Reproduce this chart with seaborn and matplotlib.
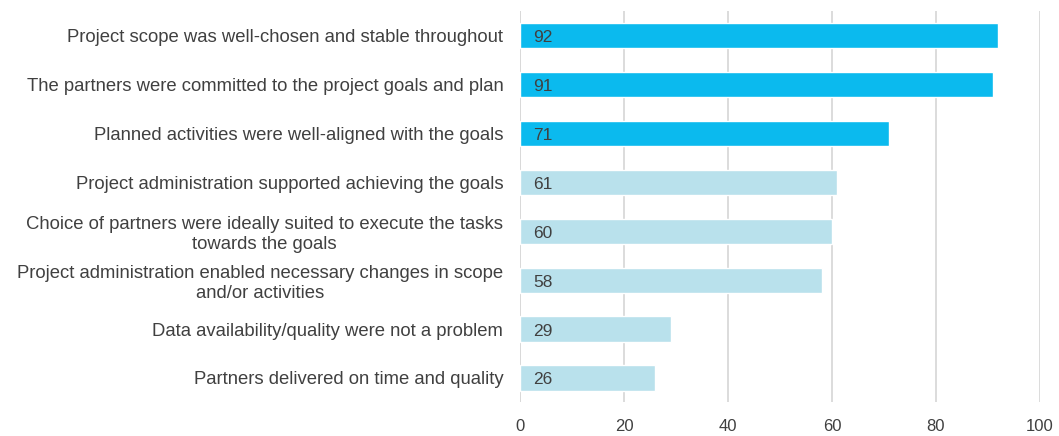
import matplotlib
matplotlib.use('Agg')
import matplotlib.pyplot as plt
import seaborn as sns
import pandas as pd

# ===== DATA =====
statements = [
    "Project scope was well-chosen and stable throughout",
    "The partners were committed to the project goals and plan",
    "Planned activities were well-aligned with the goals",
    "Project administration supported achieving the goals",
    "Choice of partners were ideally suited to execute the tasks\ntowards the goals",
    "Project administration enabled necessary changes in scope\nand/or activities",
    "Data availability/quality were not a problem",
    "Partners delivered on time and quality",
]
scores = [92, 91, 71, 61, 60, 58, 29, 26]
groups = ["top", "top", "top", "rest", "rest", "rest", "rest", "rest"]
x_ticks = [0, 20, 40, 60, 80, 100]

df = pd.DataFrame({"statement": statements, "score": scores, "group": groups})

sns.set_style("white")
plt.rcParams['font.family'] = ['Liberation Sans', 'DejaVu Sans']

fig = plt.figure(figsize=(10.59, 4.36), dpi=100)
ax = fig.add_axes([0.491, 0.077, 0.491, 0.897])

palette = {"top": "#0BBAEE", "rest": "#B9E1EC"}
sns.barplot(data=df, x="score", y="statement", hue="group", palette=palette,
            dodge=False, width=0.52, saturation=1, legend=False, ax=ax)

for i, v in enumerate(scores):
    ax.text(2.5, i + 0.04, str(v), va='center', ha='left', fontsize=12.5, color='#404040')

ax.set_xlim(0, 100)
ax.set_xticks(x_ticks)
ax.xaxis.grid(True, color='#D9D9D9', linewidth=1.3)
ax.set_axisbelow(True)
for s in ax.spines.values():
    s.set_visible(False)
ax.axvline(0, color='#D9D9D9', linewidth=1.3, zorder=0)
ax.set_xlabel('')
ax.set_ylabel('')
ax.tick_params(axis='x', labelsize=12, labelcolor='#404040', length=0, pad=12)
ax.tick_params(axis='y', labelsize=13.3, labelcolor='#404040', length=0, pad=12)
for lbl in ax.get_yticklabels():
    lbl.set_multialignment('center')

plt.savefig('out.png', dpi=100)
